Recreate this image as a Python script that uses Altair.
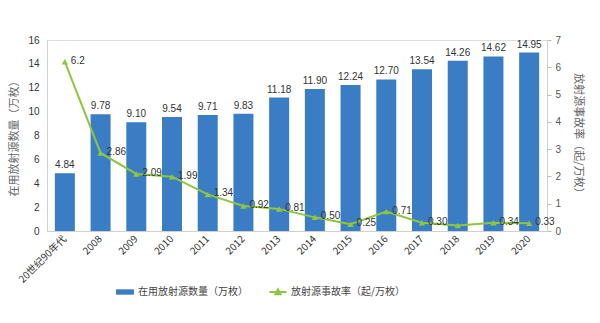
import altair as alt
import pandas as pd

categories = ["20世纪90年代", "2008", "2009", "2010", "2011", "2012", "2013",
              "2014", "2015", "2016", "2017", "2018", "2019", "2020"]
sources = [4.84, 9.78, 9.10, 9.54, 9.71, 9.83, 11.18, 11.90, 12.24, 12.70,
           13.54, 14.26, 14.62, 14.95]
rates = [6.2, 2.86, 2.09, 1.99, 1.34, 0.92, 0.81, 0.50, 0.25, 0.71,
         0.30, 0.20, 0.30, 0.28]
rate_labels = ["6.2", "2.86", "2.09", "1.99", "1.34", "0.92", "0.81", "0.50",
               "0.25", "0.71", "0.30", "", "0.34", "0.33"]
left_ticks = [0, 2, 4, 6, 8, 10, 12, 14, 16]
right_ticks = [0, 1, 2, 3, 4, 5, 6, 7]

bar_name = "在用放射源数量（万枚）"
line_name = "放射源事故率（起/万枚）"

df = pd.DataFrame({
    "cat": categories,
    "src": sources,
    "src_lbl": [f"{v:.2f}" for v in sources],
    "rate": rates,
    "rate_lbl": rate_labels,
    "bar_s": bar_name,
    "line_s": line_name,
})

BLUE = "#3b7dc4"
GREEN = "#8dc63f"
FONT = "Liberation Sans"
CJK = "Noto Sans CJK SC"

x = alt.X("cat:N", sort=categories,
          scale=alt.Scale(paddingInner=0.44, paddingOuter=0.22),
          axis=alt.Axis(title=None, labelAngle=-45, labelAlign="right",
                        labelBaseline="middle", ticks=False, labelPadding=6,
                        domainColor="#d0d0d0", labelColor="#333",
                        labelFontSize=10, labelFont=CJK))

yl = alt.Y("src:Q", scale=alt.Scale(domain=[0, 16]),
           axis=alt.Axis(title=bar_name, values=left_ticks, tickCount=9,
                         labelOverlap=False,
                         grid=False, ticks=False, domainColor="#d0d0d0",
                         labelColor="#333", labelFontSize=10, labelFont=FONT,
                         titleFont=CJK, titleFontWeight="normal",
                         titleFontSize=11, titleColor="#666", labelPadding=8,
                         titlePadding=8))

bars = alt.Chart(df).mark_bar(color=BLUE).encode(
    x=x, y=yl,
    color=alt.Color("bar_s:N", scale=alt.Scale(range=[BLUE]),
                    legend=alt.Legend(title=None, orient="none", legendX=68,
                                      legendY=242,
                                      symbolType="M-1,-0.3H1V0.3H-1Z",
                                      symbolSize=320, labelFont=CJK,
                                      labelFontSize=10, labelColor="#444",
                                      labelOffset=3)),
)
bar_text = alt.Chart(df).mark_text(dy=-8, fontSize=10, font=FONT,
                                   color="#333").encode(
    x=x, y=yl, text="src_lbl:N")

left = alt.layer(bars, bar_text)

yr = alt.Y("rate:Q", scale=alt.Scale(domain=[0, 7]),
           axis=alt.Axis(title=line_name, orient="right",
                         values=right_ticks, tickCount=8, labelOverlap=False,
                         grid=False, ticks=True,
                         tickSize=4, tickColor="#bbb", domainColor="#d0d0d0",
                         labelColor="#555", labelFontSize=10, labelFont=FONT,
                         titleFont=CJK, titleFontWeight="normal",
                         titleAngle=90,
                         titleFontSize=11, titleColor="#666", labelPadding=4,
                         titlePadding=12))

line = alt.Chart(df).mark_line(color=GREEN, strokeWidth=2).encode(x=x, y=yr)
pts = alt.Chart(df).mark_point(shape="triangle-up", filled=True, size=40,
                               opacity=1).encode(
    x=x, y=yr,
    color=alt.Color("line_s:N", scale=alt.Scale(range=[GREEN]),
                    legend=alt.Legend(title=None, orient="none", legendX=221,
                                      legendY=242,
                                      symbolType="M-1,0H1M-0.3,0.25L0,-0.3L0.3,0.25Z",
                                      symbolSize=290, symbolStrokeWidth=2,
                                      symbolStrokeColor=GREEN,
                                      symbolFillColor=GREEN,
                                      labelFont=CJK, labelFontSize=10,
                                      labelColor="#444", labelOffset=3)))
line_text = alt.Chart(df).mark_text(dx=6, dy=-1, align="left", fontSize=10,
                                    font=FONT, color="#333").encode(
    x=x, y=yr, text="rate_lbl:N")

right = alt.layer(line, pts, line_text)

chart = alt.layer(left, right).resolve_scale(
    y="independent", color="independent"
).properties(
    width=500, height=191,
    autosize=alt.AutoSizeParams(type="none"),
    padding={"left": 47, "top": 40, "right": 53, "bottom": 92},
).configure_view(stroke=None).configure(background="white")

chart.save("out.html", embed_options={"renderer": "svg", "actions": False})
